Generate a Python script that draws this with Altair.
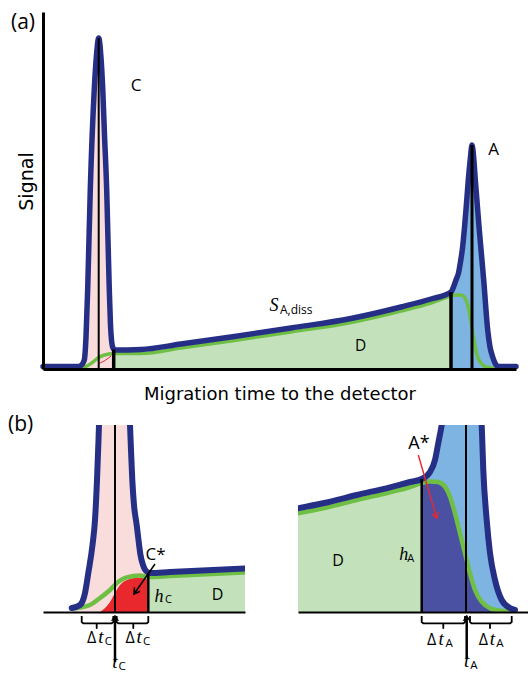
import altair as alt
import pandas as pd

FONT = "Open Sans, Noto Sans, sans-serif"
TFONT = "DejaVu Sans, sans-serif"
ITAL = "Liberation Serif, DejaVu Serif, serif"

NAVY = "#262f86"
GREEN = "#6fbf45"
PINK = "#f9dcdc"
LGREEN = "#c3e2bc"
LBLUE = "#7db4e2"
DBLUE = "#4b51a2"
RED = "#e8282d"

# ---------------- Panel (a): full electropherogram ----------------
A_BLUE_T = [0, 35, 38, 41.3, 43, 44.7, 47.3, 51.3, 53.5, 55.7, 57.8, 59.7, 61.5, 63.7, 65, 66.3, 67.5, 68.5, 70, 72,
            98, 138, 188, 248, 308, 358, 388, 408, 410.5, 413, 415.5, 417.3, 419.5, 421.3, 423.3, 425.3, 427.3, 429,
            430.8, 432.3, 436.3, 440.7, 444.7, 447, 449.7, 452, 454.7, 473]
A_BLUE_S = [2.5, 2.5, 3.5, 9, 32, 80, 180, 280, 314, 331, 314, 281, 234, 179, 129, 79, 44, 29, 21, 19,
            19.5, 25, 32, 41, 50.5, 62, 70, 77, 82, 89, 96, 106, 121, 139, 163, 189, 210, 224,
            210, 189, 139, 89, 39, 22, 12, 6, 2.5, 2.5]
A_GREEN_T = [38, 44, 50, 55, 60, 66, 71, 98, 138, 188, 248, 308, 358, 388, 408, 413, 418, 422, 425, 428, 431, 434,
             438, 443, 453]
A_GREEN_S = [1, 3, 7, 11, 13.5, 15, 15.5, 15.5, 21, 28, 37, 46.5, 58, 66, 73, 74, 74, 71, 63, 47, 29, 14,
             6, 2, 0.5]
A_RED_T = [56.3, 62, 68]
A_RED_S = [5.7, 8.5, 13]
A_RULE_THIN_T, A_RULE_THIN_TOP = [55.7], [331]
A_RULE_THICK_T, A_RULE_THICK_TOP = [70.7, 408], [19.5, 77]
A_RULE_MED_T, A_RULE_MED_TOP = [429], [224]

# ---------------- Panel (b) left: zoom on peak C ----------------
BL_BLUE_T = [28.7, 37, 42, 45.3, 49.5, 52, 54, 55.5, 56.5, 60, 72, 84, 85.5, 87, 88, 89.3, 91, 93.7, 95.5, 97.5,
             100, 103, 107, 127, 202]
BL_BLUE_S = [4, 7, 19, 39, 67, 92, 132, 172, 202, 262, 312, 262, 232, 187, 162, 132, 107, 87, 72, 57,
             47, 41, 39, 40, 43.5]
BL_GREEN_T = [28.7, 37, 47, 57, 67, 75.3, 83.7, 97, 105, 127, 202]
BL_GREEN_S = [3.5, 4.5, 7, 14, 22, 30.3, 34.7, 36.5, 35, 36, 39.5]
BL_RED_T = [57, 62, 67, 72, 77, 84, 92, 105.3]
BL_RED_S = [0, 4, 10, 19, 27, 32, 34, 34.5]
BL_RULE_T, BL_RULE_TOP = [72, 105.3], [187, 39]

# ---------------- Panel (b) right: zoom on peak A ----------------
BR_BLUE_T = [0, 25, 59, 92, 112, 123.7, 132, 137, 140.3, 143.7, 147, 157, 168, 178, 182, 183.7, 185.3, 188.7, 192,
             197, 203.7, 212, 217]
BR_BLUE_S = [103.7, 108.7, 117, 124.7, 130, 133, 140, 152, 169, 187, 212, 252, 267, 252, 212, 187, 142, 92, 59,
             32, 12, 4, 2]
BR_GREEN_T = [0, 25, 59, 92, 112, 123.7, 132, 140, 147, 152, 157, 162, 167, 172, 177, 183.7, 192, 202, 217]
BR_GREEN_S = [98.7, 103.7, 112, 119.7, 125, 129, 130.5, 130, 125.3, 115.3, 98.7, 78.7, 58.7, 38.7, 22, 10.3,
              3.7, 1.3, 0.5]
BR_RULE_T, BR_RULE_TOP = [123.7, 168], [133, 187]

# brackets (shape shared) and their time positions
BRACKET_S = [-4, -10, -11.3, -11.3, -16, -11.3, -11.3, -10, -4]
BL_BRACKET1_T = [38.7, 38.7, 40.2, 53.7, 53.7, 53.7, 68.8, 70.3, 70.3]
BL_BRACKET2_T = [73.7, 73.7, 75.2, 90.3, 90.3, 90.3, 103.8, 105.3, 105.3]
BR_BRACKET1_T = [123.7, 123.7, 125.2, 145.3, 145.3, 145.3, 165.5, 167, 167]
BR_BRACKET2_T = [172, 172, 173.5, 192, 192, 192, 212.2, 213.7, 213.7]


def frame(t, s):
    return pd.DataFrame({"t": t, "s": s})


def area(d, X, Y, color, clip=False):
    return alt.Chart(d).mark_area(color=color, interpolate="monotone", clip=clip).encode(x=X, y=Y)


def line(d, X, Y, color, width, clip=False):
    return alt.Chart(d).mark_line(color=color, strokeWidth=width, interpolate="monotone", clip=clip,
                                  strokeCap="round", strokeJoin="round").encode(x=X, y=Y)


def vrules(t, top, X, Y, width, clip=False):
    d = pd.DataFrame({"t": t, "s": [0] * len(t), "s2": top})
    return alt.Chart(d).mark_rule(color="black", strokeWidth=width, clip=clip).encode(x=X, y=Y, y2="s2:Q")


def seg(t, s, t2, s2, X, Y, color, width):
    d = pd.DataFrame({"t": [t], "s": [s], "t2": [t2], "s2": [s2]})
    return alt.Chart(d).mark_rule(color=color, strokeWidth=width).encode(x=X, y=Y, x2="t2:Q", y2="s2:Q")


def head(t, s, X, Y, angle, color, open_head=True):
    d = pd.DataFrame({"t": [t], "s": [s]})
    if open_head:
        m = alt.Chart(d).mark_point(shape="M-0.6,1L0,0L0.6,1", filled=False, stroke=color, strokeWidth=1.5,
                                    size=130, angle=angle, opacity=1)
    else:
        m = alt.Chart(d).mark_point(shape="M0,0L-0.7,1.1L0,0.75L0.7,1.1Z", filled=True, fill=color,
                                    stroke=color, strokeWidth=0.5, size=110, angle=angle, opacity=1)
    return m.encode(x=X, y=Y)


def bracket(t, X, Y):
    d = pd.DataFrame({"t": t, "s": BRACKET_S, "i": list(range(len(t)))})
    return alt.Chart(d).mark_line(color="black", strokeWidth=1.8, strokeJoin="round").encode(
        x=X, y=Y, order="i:Q")


def text(labels, t, s, X, Y, font, size, style="normal", align="center", baseline="middle", color="black"):
    d = pd.DataFrame({"t": t, "s": s, "label": labels})
    return alt.Chart(d).mark_text(font=font, fontSize=size, fontStyle=style, align=align, baseline=baseline,
                                  color=color).encode(x=X, y=Y, text="label:N")


# ---------------- build panel (a) ----------------
Xa = alt.X("t:Q", scale=alt.Scale(domain=[0, 473], nice=False, zero=False),
           axis=alt.Axis(title="Migration time to the detector", domain=True, domainColor="black", domainWidth=3,
                         ticks=False, labels=False, grid=False, titleFont=TFONT, titleFontSize=18,
                         titleFontWeight="normal", titleColor="black", titlePadding=16, zindex=1))
Ya = alt.Y("s:Q", scale=alt.Scale(domain=[0, 357], nice=False, zero=False),
           axis=alt.Axis(title="Signal", domain=True, domainColor="black", domainWidth=3, ticks=False,
                         labels=False, grid=False, titleFont=TFONT, titleFontSize=19, titleFontWeight="normal",
                         titleColor="black", titleX=-7, titleY=169, zindex=1))

a_blue = frame(A_BLUE_T, A_BLUE_S)
a_green = frame(A_GREEN_T, A_GREEN_S)
a_pink = a_blue[(a_blue.t >= 35) & (a_blue.t <= 72)]
a_gfill = a_green[(a_green.t >= 71) & (a_green.t <= 408)]
a_bfill = a_blue[(a_blue.t >= 408) & (a_blue.t <= 454.7)]

panel_a = alt.layer(
    area(a_pink, Xa, Ya, PINK),
    area(a_gfill, Xa, Ya, LGREEN),
    area(a_bfill, Xa, Ya, LBLUE),
    line(frame(A_RED_T, A_RED_S), Xa, Ya, RED, 1),
    line(a_green, Xa, Ya, GREEN, 3.5),
    line(a_blue, Xa, Ya, NAVY, 5.5),
    vrules(A_RULE_THIN_T, A_RULE_THIN_TOP, Xa, Ya, 2),
    vrules(A_RULE_THICK_T, A_RULE_THICK_TOP, Xa, Ya, 3.5),
    vrules(A_RULE_MED_T, A_RULE_MED_TOP, Xa, Ya, 3),
    text(["(a)"], [-32], [346], Xa, Ya, FONT, 21, align="left"),
    text(["C", "A"], [93, 450.5], [283, 219], Xa, Ya, FONT, 17),
    text(["D"], [317.5], [23.5], Xa, Ya, FONT, 15.5),
    text(["S"], [231], [58.5], Xa, Ya, ITAL, 18, style="italic", baseline="alphabetic"),
    text(["A,diss"], [237], [55], Xa, Ya, FONT, 12, align="left", baseline="alphabetic"),
).properties(width=473, height=357)

# ---------------- build panel (b) left ----------------
Xbl = alt.X("t:Q", scale=alt.Scale(domain=[0, 202], nice=False, zero=False),
            axis=alt.Axis(title=None, domain=True, domainColor="black", domainWidth=2, ticks=False, labels=False,
                          grid=False, zindex=1))
Ybl = alt.Y("s:Q", scale=alt.Scale(domain=[0, 187], nice=False, zero=False), axis=None)

bl_blue = frame(BL_BLUE_T, BL_BLUE_S)
bl_green = frame(BL_GREEN_T, BL_GREEN_S)

panel_bl = alt.layer(
    area(bl_blue[bl_blue.t <= 107], Xbl, Ybl, PINK, clip=True),
    area(frame(BL_RED_T, BL_RED_S), Xbl, Ybl, RED, clip=True),
    area(bl_green[bl_green.t >= 105], Xbl, Ybl, LGREEN, clip=True),
    line(bl_green, Xbl, Ybl, GREEN, 4.5, clip=True),
    line(bl_blue, Xbl, Ybl, NAVY, 6, clip=True),
    vrules(BL_RULE_T[:1], BL_RULE_TOP[:1], Xbl, Ybl, 2, clip=True),
    vrules(BL_RULE_T[1:], BL_RULE_TOP[1:], Xbl, Ybl, 2.5, clip=True),
    text(["(b)"], [-35], [187.5], Xbl, Ybl, FONT, 21, align="left"),
    text(["C*"], [112.5], [57], Xbl, Ybl, FONT, 17),
    seg(112, 48, 91, 18, Xbl, Ybl, "black", 1.5),
    head(91, 18, Xbl, Ybl, 215, "black"),
    text(["h"], [116], [10], Xbl, Ybl, ITAL, 18, style="italic", baseline="alphabetic"),
    text(["C"], [125.5], [9], Xbl, Ybl, FONT, 11, baseline="alphabetic"),
    text(["D"], [174.5], [17.5], Xbl, Ybl, FONT, 16),
    bracket(BL_BRACKET1_T, Xbl, Ybl),
    bracket(BL_BRACKET2_T, Xbl, Ybl),
    text(["Δ", "Δ"], [48.7, 87], [-31.3, -31.3], Xbl, Ybl, FONT, 16, baseline="alphabetic"),
    text(["t", "t"], [58, 96.2], [-31.3, -31.3], Xbl, Ybl, ITAL, 19, style="italic", baseline="alphabetic"),
    text(["C", "C"], [65.3, 103.7], [-33, -33], Xbl, Ybl, FONT, 11.5, baseline="alphabetic"),
    seg(72, -50, 72, -7, Xbl, Ybl, "black", 2.5),
    head(72, -3, Xbl, Ybl, 0, "black", open_head=False),
    text(["t"], [72], [-55.5], Xbl, Ybl, ITAL, 19, style="italic", baseline="alphabetic"),
    text(["C"], [79.2], [-58], Xbl, Ybl, FONT, 11.5, baseline="alphabetic"),
).properties(width=202, height=187)

# ---------------- build panel (b) right ----------------
Xbr = alt.X("t:Q", scale=alt.Scale(domain=[0, 230], nice=False, zero=False),
            axis=alt.Axis(title=None, domain=True, domainColor="black", domainWidth=2, ticks=False, labels=False,
                          grid=False, zindex=1))
Ybr = alt.Y("s:Q", scale=alt.Scale(domain=[0, 187], nice=False, zero=False), axis=None)

br_blue = frame(BR_BLUE_T, BR_BLUE_S)
br_green = frame(BR_GREEN_T, BR_GREEN_S)

panel_br = alt.layer(
    area(br_green[br_green.t <= 123.7], Xbr, Ybr, LGREEN, clip=True),
    area(br_blue[br_blue.t >= 123.7], Xbr, Ybr, LBLUE, clip=True),
    area(br_green[br_green.t >= 123.7], Xbr, Ybr, DBLUE, clip=True),
    line(br_green, Xbr, Ybr, GREEN, 4.5, clip=True),
    line(br_blue, Xbr, Ybr, NAVY, 6, clip=True),
    vrules(BR_RULE_T[:1], BR_RULE_TOP[:1], Xbr, Ybr, 2.5, clip=True),
    vrules(BR_RULE_T[1:], BR_RULE_TOP[1:], Xbr, Ybr, 2, clip=True),
    text(["A*"], [121], [168], Xbr, Ybr, FONT, 18),
    seg(120.3, 157, 138.7, 93.7, Xbr, Ybr, RED, 1.4),
    head(138.7, 93.7, Xbr, Ybr, 163.8, RED),
    text(["h"], [105.7], [52], Xbr, Ybr, ITAL, 18, style="italic", baseline="alphabetic"),
    text(["A"], [112.7], [50], Xbr, Ybr, FONT, 11, baseline="alphabetic"),
    text(["D"], [40], [51], Xbr, Ybr, FONT, 16),
    bracket(BR_BRACKET1_T, Xbr, Ybr),
    bracket(BR_BRACKET2_T, Xbr, Ybr),
    text(["Δ", "Δ"], [133.7, 185.3], [-33, -33], Xbr, Ybr, FONT, 16, baseline="alphabetic"),
    text(["t", "t"], [143.2, 194.5], [-33, -33], Xbr, Ybr, ITAL, 19, style="italic", baseline="alphabetic"),
    text(["A", "A"], [151.2, 202], [-35, -35], Xbr, Ybr, FONT, 11.5, baseline="alphabetic"),
    seg(168.7, -47, 168.7, -7, Xbr, Ybr, "black", 2.5),
    head(168.7, -3, Xbr, Ybr, 0, "black", open_head=False),
    text(["t"], [168.7], [-54.5], Xbr, Ybr, ITAL, 19, style="italic", baseline="alphabetic"),
    text(["A"], [176], [-57], Xbr, Ybr, FONT, 11.5, baseline="alphabetic"),
).properties(width=230, height=187)

chart = alt.vconcat(
    panel_a,
    alt.hconcat(panel_bl, panel_br, spacing=53),
    spacing=10,
).properties(
    padding={"left": 8, "top": 12, "right": 0, "bottom": 0},
    background="white",
).configure_view(stroke=None)

chart.save("out.html", embed_options={"renderer": "svg", "actions": False})
